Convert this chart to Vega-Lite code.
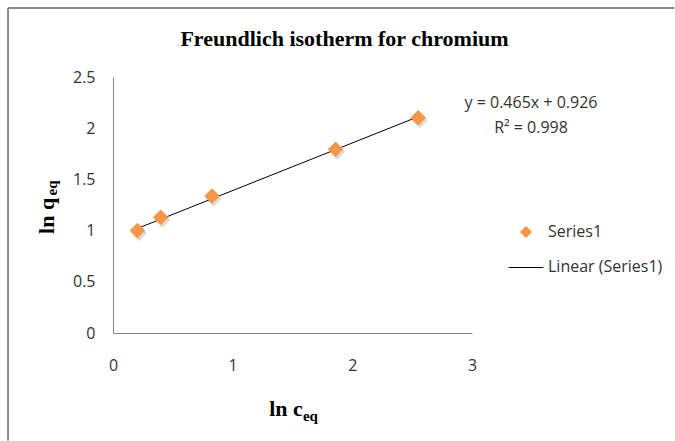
{
  "$schema": "https://vega.github.io/schema/vega-lite/v6.json",
  "autosize": {"type": "none"},
  "padding": {"left": 113, "top": 77, "right": 203, "bottom": 108},
  "width": 359,
  "height": 256,
  "background": "white",
  "config": {"view": {"stroke": null}},
  "title": {
    "text": "Freundlich isotherm for chromium",
    "font": "Liberation Serif",
    "fontSize": 22,
    "fontWeight": "bold",
    "color": "black",
    "anchor": "middle",
    "frame": "group",
    "dx": 52,
    "baseline": "alphabetic",
    "offset": -61
  },
  "datasets": {
    "points": [
      {"lnc": 0.204, "lnq": 1.0, "series": "Series1"},
      {"lnc": 0.399, "lnq": 1.13, "series": "Series1"},
      {"lnc": 0.828, "lnq": 1.337, "series": "Series1"},
      {"lnc": 1.86, "lnq": 1.795, "series": "Series1"},
      {"lnc": 2.55, "lnq": 2.103, "series": "Series1"}
    ],
    "trend": [
      {"lnc": 0.204, "lnq": 1.021, "series": "Linear (Series1)"},
      {"lnc": 2.55, "lnq": 2.112, "series": "Linear (Series1)"}
    ],
    "one": [{"note": "annotation"}]
  },
  "layer": [
    {
      "data": {"name": "one"},
      "mark": {"type": "rule", "stroke": "#8a8a8a", "strokeWidth": 2, "clip": false},
      "encoding": {
        "x": {"datum": -0.877},
        "y": {"datum": 3.174},
        "y2": {"datum": -1.05}
      }
    },
    {
      "data": {"name": "one"},
      "mark": {"type": "rule", "stroke": "#8a8a8a", "strokeWidth": 2, "clip": false},
      "encoding": {
        "y": {"datum": 3.174},
        "x": {"datum": -0.877},
        "x2": {"datum": 4.69}
      }
    },
    {
      "data": {"name": "trend"},
      "mark": {"type": "line", "strokeWidth": 1},
      "encoding": {
        "x": {"field": "lnc", "type": "quantitative"},
        "y": {"field": "lnq", "type": "quantitative"},
        "color": {
          "field": "series",
          "type": "nominal",
          "scale": {"domain": ["Series1", "Linear (Series1)"], "range": ["#F79646", "#000000"]},
          "legend": {
            "orient": "none", "legendX": 405, "legendY": 147, "title": null, "padding": 0,
            "symbolSize": 144, "symbolStrokeWidth": 0, "labelFont": "Open Sans", "labelFontSize": 16, "labelColor": "#333333",
            "labelOffset": 14, "rowPadding": 19.4
          }
        }
      }
    },
    {
      "data": {"name": "points"},
      "mark": {"type": "point", "filled": true, "opacity": 0.22, "size": 260, "xOffset": 1.5, "yOffset": 2.5},
      "encoding": {
        "x": {"field": "lnc", "type": "quantitative"},
        "y": {"field": "lnq", "type": "quantitative"},
        "color": {"value": "#555555"},
        "shape": {"value": "diamond"}
      }
    },
    {
      "data": {"name": "points"},
      "mark": {"type": "point", "filled": true, "opacity": 1, "size": 240},
      "encoding": {
        "x": {
          "field": "lnc",
          "type": "quantitative",
          "scale": {"domain": [0, 3], "nice": false},
          "axis": {
            "values": [0, 1, 2, 3],
            "format": "~g",
            "grid": false,
            "ticks": false,
            "labelFlush": false,
            "domainColor": "#878787",
            "domainWidth": 1,
            "labelFont": "Open Sans",
            "labelFontSize": 16,
            "labelColor": "#333333",
            "labelPadding": 24,
            "title": "ln c",
            "titleFont": "Liberation Serif",
            "titleFontSize": 22,
            "titleFontWeight": "bold",
            "titleColor": "black",
            "titleX": 172.5,
            "titleY": 82,
            "titleBaseline": "alphabetic",
            "titleAlign": "center"
          }
        },
        "y": {
          "field": "lnq",
          "type": "quantitative",
          "scale": {"domain": [0, 2.5], "nice": false},
          "axis": {
            "values": [0, 0.5, 1, 1.5, 2, 2.5],
            "format": "~g",
            "grid": false,
            "ticks": false,
            "labelFlush": false,
            "domainColor": "#878787",
            "domainWidth": 1,
            "labelFont": "Open Sans",
            "labelFontSize": 16,
            "labelColor": "#333333",
            "labelPadding": 18,
            "title": "ln q",
            "titleFont": "Liberation Serif",
            "titleFontSize": 22,
            "titleFontWeight": "bold",
            "titleColor": "black",
            "titleX": -60,
            "titleY": 138.4,
            "titleAngle": 270,
            "titleBaseline": "alphabetic",
            "titleAlign": "center"
          }
        },
        "color": {
          "field": "series",
          "type": "nominal",
          "scale": {"domain": ["Series1", "Linear (Series1)"], "range": ["#F79646", "#000000"]},
          "legend": {
            "orient": "none", "legendX": 405, "legendY": 147, "title": null, "padding": 0,
            "symbolSize": 144, "symbolStrokeWidth": 0, "labelFont": "Open Sans", "labelFontSize": 16, "labelColor": "#333333",
            "labelOffset": 14, "rowPadding": 19.4
          }
        },
        "shape": {
          "field": "series",
          "type": "nominal",
          "scale": {"domain": ["Series1", "Linear (Series1)"], "range": ["diamond", "M-2.9,-0.085H2.9V0.085H-2.9Z"]},
          "legend": {
            "orient": "none", "legendX": 405, "legendY": 147, "title": null, "padding": 0,
            "symbolSize": 144, "symbolStrokeWidth": 0, "labelFont": "Open Sans", "labelFontSize": 16, "labelColor": "#333333",
            "labelOffset": 14, "rowPadding": 19.4
          }
        }
      }
    },
    {
      "data": {"name": "one"},
      "mark": {"type": "text", "font": "Open Sans", "fontSize": 16, "color": "#333333", "align": "center", "baseline": "middle"},
      "encoding": {
        "x": {"datum": 3.493},
        "y": {"datum": 2.243},
        "text": {"value": "y = 0.465x + 0.926"}
      }
    },
    {
      "data": {"name": "one"},
      "mark": {"type": "text", "font": "Open Sans", "fontSize": 16, "color": "#333333", "align": "center", "baseline": "middle"},
      "encoding": {
        "x": {"datum": 3.493},
        "y": {"datum": 2.005},
        "text": {"value": "R² = 0.998"}
      }
    },
    {
      "data": {"name": "one"},
      "mark": {"type": "text", "font": "Liberation Serif", "fontSize": 15, "fontWeight": "bold", "color": "black", "align": "center", "baseline": "alphabetic"},
      "encoding": {
        "x": {"datum": 1.65},
        "y": {"datum": -0.859},
        "text": {"value": "eq"}
      }
    },
    {
      "data": {"name": "one"},
      "mark": {"type": "text", "font": "Liberation Serif", "fontSize": 15, "fontWeight": "bold", "color": "black", "align": "center", "baseline": "alphabetic", "angle": 270},
      "encoding": {
        "x": {"datum": -0.468},
        "y": {"datum": 1.416},
        "text": {"value": "eq"}
      }
    }
  ]
}
